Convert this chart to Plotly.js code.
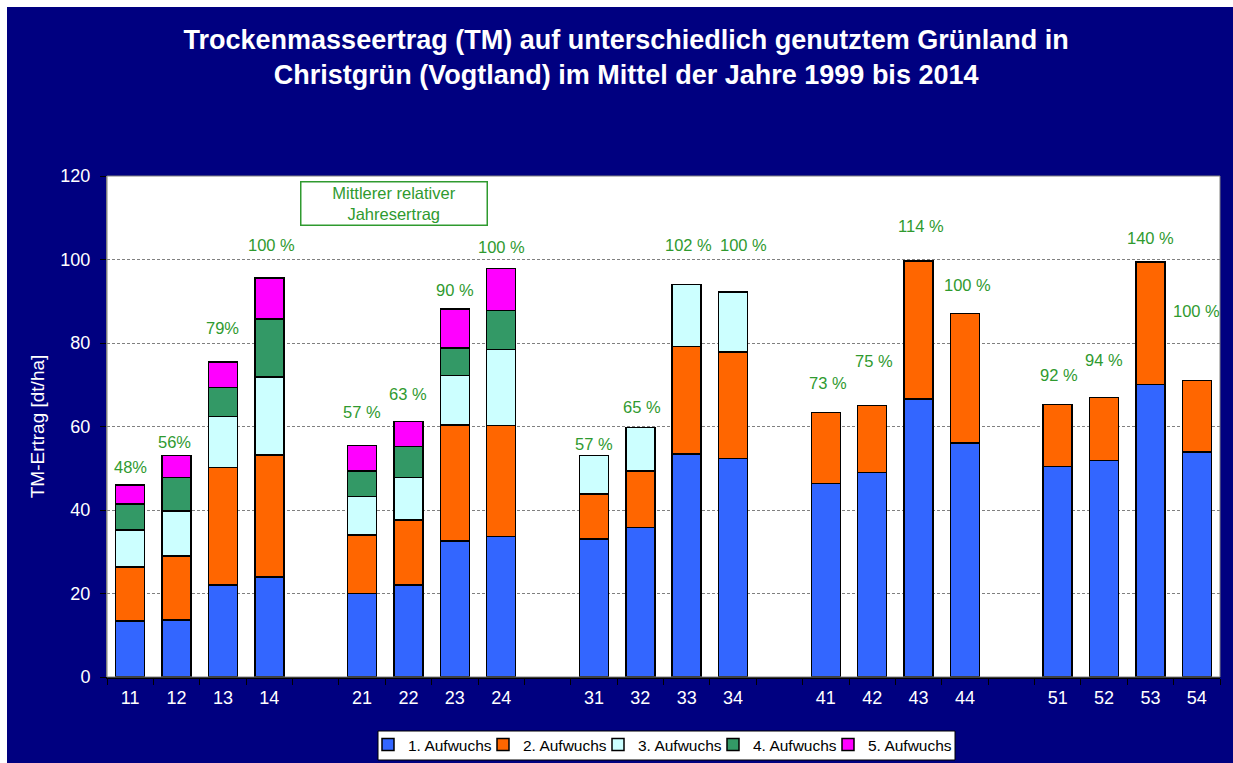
<!DOCTYPE html>
<html>
<head>
<meta charset="utf-8">
<script src="https://cdn.plot.ly/plotly-3.0.1.min.js"></script>
<style>
  html, body { margin: 0; padding: 0; background: #ffffff; width: 1233px; height: 763px; overflow: hidden; }
  #chart { position: absolute; left: 7px; top: 7px; width: 1226px; height: 756px; }
</style>
</head>
<body>
<div id="chart"></div>
<script>
// ---------- DATA ----------
const categories = ['11','12','13','14','21','22','23','24','31','32','33','34','41','42','43','44','51','52','53','54'];
const seriesNames = ['1. Aufwuchs','2. Aufwuchs','3. Aufwuchs','4. Aufwuchs','5. Aufwuchs'];
const aufwuchs1 = [13.4,13.6,22.0,24.0, 20.0,22.0,32.6,33.6, 33.0,35.8,53.4,52.3, 46.4,49.0,66.6,56.1, 50.4,51.8,70.1,53.9];
const aufwuchs2 = [13.0,15.4,28.2,29.2, 14.0,15.6,27.8,26.6, 10.8,13.6,25.8,25.5, 17.0,16.0,33.0,31.0, 14.9,15.1,29.3,17.1];
const aufwuchs3 = [8.8,10.8,12.2,18.6, 9.2,10.2,11.8,18.2, 9.2,10.4,14.8,14.4, null,null,null,null, null,null,null,null];
const aufwuchs4 = [6.2,8.0,7.0,14.0, 6.2,7.4,6.6,9.4, null,null,null,null, null,null,null,null, null,null,null,null];
const aufwuchs5 = [4.6,5.2,6.0,9.8, 6.0,6.0,9.4,10.0, null,null,null,null, null,null,null,null, null,null,null,null];
const relErtrag = ['48%','56%','79%','100 %','57 %','63 %','90 %','100 %','57 %','65 %','102 %','100 %','73 %','75 %','114 %','100 %','92 %','94 %','140 %','100 %'];
const yTicks = [0,20,40,60,80,100,120];

// ---------- LAYOUT HELPERS (positions/styles) ----------
const gapCats = [' ','  ','   ','    '];
const axisCats = [];
categories.forEach((c, i) => {
  axisCats.push(c);
  if (i % 4 === 3 && i < categories.length - 1) axisCats.push(gapCats[(i - 3) / 4]);
});
const labelY = [50.2,56.4,83.7,103.4, 63.4,67.8,92.6,102.9, 55.8,64.6,103.4,103.4, 70.4,75.6,108.0,94.0, 72.4,76.0,105.2,87.6];
const labelShift = [0,-2,0,2, 0,0,0,0, 0,2,2,10, 2,2,2,3, 1,0,0,0];
const colors = ['#3366FF','#FF6600','#CCFFFF','#339966','#FF00FF'];
const values = [aufwuchs1, aufwuchs2, aufwuchs3, aufwuchs4, aufwuchs5];
const FONT = 'Liberation Sans, Arial, Helvetica, sans-serif';
const GREEN = '#2F9A2F';
const W = 1226, H = 756, ML = 100, MR = 13, MT = 169, MB = 86;
const PW = W - ML - MR, PH = H - MT - MB;
const px = v => (v - ML) / PW;            // div x pixel -> paper x
const py = v => (H - MB - v) / PH;        // div y pixel -> paper y
const LEG_X0 = 361, LEG_STEP = 115, LEG_Y = 721;
const legendIds = ['legend','legend2','legend3','legend4','legend5'];

const traces = values.map((v, k) => ({
  type: 'bar',
  name: seriesNames[k],
  x: categories,
  y: v,
  legend: legendIds[k],
  marker: { color: colors[k], line: { color: '#000000', width: 1.5 } },
  hoverinfo: 'x+y+name'
}));

const annotations = categories.map((c, i) => ({
  x: axisCats.indexOf(c), y: labelY[i], xref: 'x', yref: 'y',
  text: relErtrag[i], showarrow: false, xshift: labelShift[i],
  font: { family: FONT, size: 16.5, color: GREEN }
}));
annotations.push({
  xref: 'paper', yref: 'paper', x: px(386.5), y: py(196.7),
  xanchor: 'center', yanchor: 'middle',
  text: 'Mittlerer relativer<br>Jahresertrag', showarrow: false,
  width: 183, height: 40, bgcolor: '#ffffff',
  bordercolor: GREEN, borderwidth: 1.5, borderpad: 1,
  font: { family: FONT, size: 16.5, color: GREEN }
});

const layout = {
  width: W, height: H,
  margin: { l: ML, r: MR, t: MT, b: MB, autoexpand: false },
  paper_bgcolor: '#000080',
  plot_bgcolor: '#ffffff',
  barmode: 'stack',
  bargap: 0.375,
  showlegend: true,
  title: {
    text: 'Trockenmasseertrag (TM) auf unterschiedlich genutztem Grünland in<br>Christgrün (Vogtland) im Mittel der Jahre 1999 bis 2014',
    font: { family: FONT, size: 27, color: '#ffffff', weight: 'bold' },
    xref: 'container', x: 0.505, xanchor: 'center',
    yref: 'container', y: 1 - 42 / H, yanchor: 'middle'
  },
  xaxis: {
    type: 'category',
    categoryorder: 'array',
    categoryarray: axisCats,
    range: [-0.5, axisCats.length - 0.5],
    tickson: 'boundaries',
    ticks: 'outside', ticklen: 6, tickcolor: '#000000', tickwidth: 1,
    ticklabelstandoff: 4,
    tickfont: { family: FONT, size: 18, color: '#ffffff' },
    showline: true, linecolor: '#000000', linewidth: 1.5,
    showgrid: false, zeroline: false, fixedrange: true, automargin: false
  },
  yaxis: {
    range: [0, 120],
    tickvals: yTicks,
    ticks: 'outside', ticklen: 6, tickcolor: '#000000', tickwidth: 1,
    ticklabelstandoff: 6,
    tickfont: { family: FONT, size: 18, color: '#ffffff' },
    showgrid: true, gridcolor: '#808080', gridwidth: 1, griddash: '3px,2px',
    showline: true, linecolor: '#808080', linewidth: 1,
    zeroline: false, fixedrange: true, automargin: false,
    title: { text: 'TM-Ertrag [dt/ha]', font: { family: FONT, size: 19, color: '#ffffff' }, standoff: 10 }
  },
  shapes: [{
    type: 'rect', xref: 'paper', yref: 'paper', x0: 0, x1: 1, y0: 0, y1: 1,
    line: { color: '#808080', width: 1 }, fillcolor: 'rgba(0,0,0,0)', layer: 'above'
  }, {
    type: 'rect', xref: 'paper', yref: 'paper',
    x0: px(371), x1: px(948), y0: py(724), y1: py(753),
    line: { color: '#000000', width: 1 }, fillcolor: '#ffffff', layer: 'below'
  }],
  annotations: annotations
};
legendIds.forEach((id, k) => {
  layout[id] = {
    orientation: 'h',
    xref: 'paper', x: px(LEG_X0 + k * LEG_STEP), xanchor: 'left',
    yref: 'paper', y: py(LEG_Y), yanchor: 'top',
    bgcolor: 'rgba(0,0,0,0)', borderwidth: 0,
    font: { family: FONT, size: 15.5, color: '#000000' }
  };
});

Plotly.newPlot('chart', traces, layout, { displayModeBar: false, staticPlot: true });
</script>
</body>
</html>
